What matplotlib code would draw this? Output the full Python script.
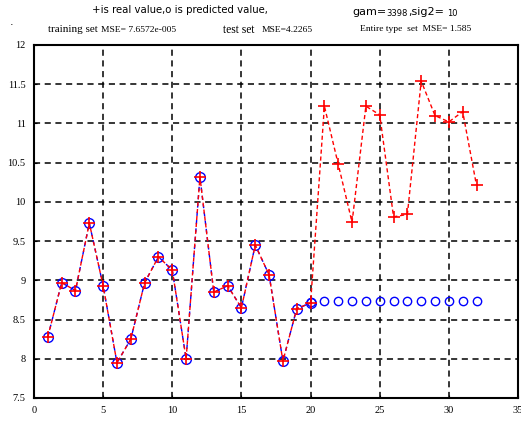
import matplotlib
matplotlib.use("Agg")
import matplotlib.pyplot as plt
import numpy as np

# Data
x_all = list(range(1, 33))
real_values = [8.28, 8.97, 8.87, 9.73, 8.93, 7.95, 8.25, 8.97, 9.30, 9.13,
               8.00, 10.32, 8.85, 8.93, 8.65, 9.45, 9.07, 7.97, 8.64, 8.71,
               11.22, 10.48, 9.74, 11.22, 11.11, 9.81, 9.84, 11.54, 11.10, 11.02,
               11.15, 10.21]
x_train = list(range(1, 21))
train_pred = [8.28, 8.97, 8.87, 9.73, 8.93, 7.95, 8.25, 8.97, 9.30, 9.13,
              8.00, 10.32, 8.85, 8.93, 8.65, 9.45, 9.07, 7.97, 8.64, 8.71]
x_test = list(range(20, 33))
test_pred = [8.73, 8.74, 8.74, 8.74, 8.74, 8.74, 8.74, 8.74, 8.74, 8.74,
             8.74, 8.74, 8.74]
x_ticks = [0, 5, 10, 15, 20, 25, 30, 35]
y_ticks = [7.5, 8, 8.5, 9, 9.5, 10, 10.5, 11, 11.5, 12]
y_tick_labels = ["7.5", "8", "8.5", "9", "9.5", "10", "10.5", "11", "11.5", "12"]

fig = plt.figure(figsize=(5.21, 4.21), dpi=100)
ax = fig.add_axes([34/521, 23/421, 484/521, 353/421])

ax.plot(x_all, real_values, color="red", linestyle=(0, (3, 2)), linewidth=1.0,
        marker="+", markersize=8, markeredgewidth=1.2, zorder=3)
ax.plot(x_train, train_pred, color="blue", linestyle=(0, (3, 3)), linewidth=1.0,
        marker="o", markersize=7, markerfacecolor="none", markeredgewidth=1.0, zorder=2)
ax.plot(x_test, test_pred, color="blue", linestyle="none",
        marker="o", markersize=6, markerfacecolor="none", markeredgewidth=1.0, zorder=2)

ax.set_xlim(0, 35)
ax.set_ylim(7.5, 12)
ax.set_xticks(x_ticks)
ax.set_yticks(y_ticks)
ax.set_yticklabels(y_tick_labels)
ax.grid(True, color="black", linestyle=(0, (4, 3)), linewidth=1.1)
ax.tick_params(length=2, direction="in", labelsize=7.5, pad=6)
for lab in ax.get_xticklabels() + ax.get_yticklabels():
    lab.set_fontfamily("Liberation Serif")
for sp in ax.spines.values():
    sp.set_linewidth(1.5)

fig.text(92/521, 1 - 10/421, "+is real value,o is predicted value,", fontsize=7.3,
         family="DejaVu Sans", va="center")
fig.text(352/521, 1 - 12/421, "gam=", fontsize=8, family="DejaVu Sans", va="center")
fig.text(386/521, 1 - 14/421, "3398", fontsize=6, family="DejaVu Sans", va="center")
fig.text(408/521, 1 - 12/421, ",sig2=", fontsize=8, family="DejaVu Sans", va="center")
fig.text(447/521, 1 - 14/421, "10", fontsize=6, family="DejaVu Sans", va="center")
fig.text(10/521, 1 - 22/421, ".", fontsize=8, va="center")
fig.text(48/521, 1 - 30/421, "training set", fontsize=8, family="Liberation Serif", va="center")
fig.text(101/521, 1 - 30/421, "MSE= 7.6572e-005", fontsize=6.8, family="Liberation Serif", va="center")
fig.text(223/521, 1 - 30/421, "test set", fontsize=8.3, family="Liberation Serif", va="center")
fig.text(262/521, 1 - 30/421, "MSE=4.2265", fontsize=6.8, family="Liberation Serif", va="center")
fig.text(360/521, 1 - 29/421, "Entire type  set  MSE= 1.585", fontsize=6.8, family="Liberation Serif", va="center")

fig.savefig("out.png", dpi=100)
